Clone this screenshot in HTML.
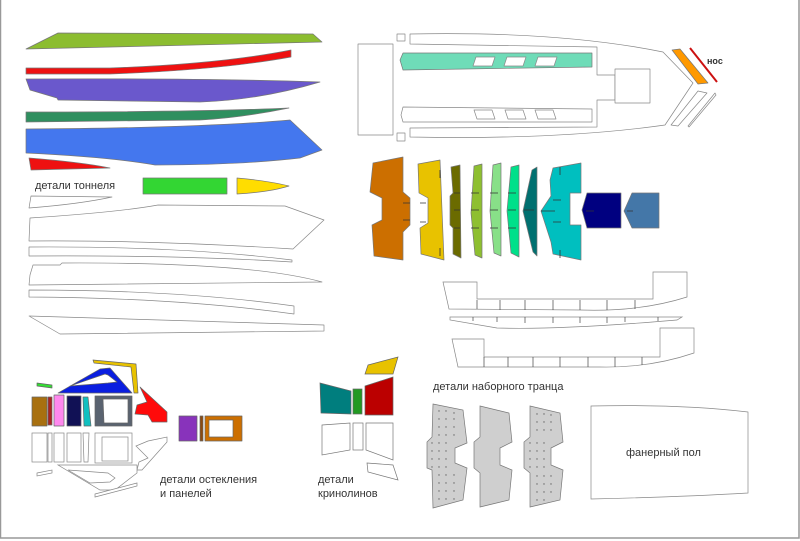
<!DOCTYPE html>
<html><head><meta charset="utf-8"><style>
html,body{margin:0;padding:0;background:#fff;width:800px;height:541px;overflow:hidden}
svg{display:block}
text{font-family:"Liberation Sans",sans-serif;fill:#333}
</style></head><body>
<svg width="800" height="541" viewBox="0 0 800 541" xmlns="http://www.w3.org/2000/svg">
<rect x="0.5" y="-2" width="798.5" height="540" fill="#fff" stroke="#999" stroke-width="1.5"/>
<g stroke="#777" stroke-width="0.7" stroke-linejoin="round">
<!-- tunnel colored -->
<polygon points="26,49 58,33 313,34 322,42" fill="#8cbd30"/>
<path d="M26,68 L110,68 Q220,64 291,50 L291,57 Q220,70 110,74 L26,74 Z" fill="#ee1111"/>
<path d="M26,79 Q200,78 320,82 Q260,100 200,102 L58,100 L57,98 L30,90 Z" fill="#6a58cc"/>
<path d="M26,112 Q200,112 289,108 Q240,118 200,120 L26,122 Z" fill="#2f8f5f"/>
<path d="M26,129 Q200,128 290,120 L322,150 L300,158 Q240,165 155,165 Q110,157 26,153 Z" fill="#4477ee"/>
<path d="M29,158 Q80,162 110,168 L31,170 Z" fill="#ee1111"/>
<rect x="143" y="178" width="84" height="16" fill="#33d633"/>
<path d="M237,178 Q270,181 289,186 Q270,192 237,194 Z" fill="#ffdd00"/>
<!-- tunnel outlines -->
<g fill="#fff" stroke="#888">
<path d="M31,196 L112,197 Q80,204 29,208 Z"/>
<path d="M30,218 Q120,212 158,205 L285,206 L324,220 L293,249 Q150,240 29,241 Z"/>
<path d="M29,247 Q180,246 292,260 L292,262 Q180,255 29,256 Z"/>
<path d="M30,275 L33,265 L60,265 L62,263 Q250,262 322,282 L29,285 Z"/>
<path d="M29,290 Q180,290 294,306 L294,314 Q180,298 29,297 Z"/>
<path d="M29,316 L324,325 L324,331 L60,334 Z"/>
</g>
<!-- deck plan -->
<g fill="#fff" stroke="#888">
<rect x="358" y="44" width="35" height="91"/>
<rect x="397" y="34" width="8" height="7"/>
<rect x="397" y="133" width="8" height="8"/>
<path d="M410,34 Q560,31 663,52 L693,83 L665,125 Q560,140 410,137 L410,128 L597,127 L597,100 L615,100 L615,75 L597,75 L597,47 L410,44 Z"/>
<rect x="615" y="69" width="35" height="34"/>
<path d="M403,107 L592,109 L592,122 L403,122 L401,115 Z"/>
<path d="M698,91 L707,93 L678,126 L671,125 Z"/>
<path d="M715,93 L716,95 L689,127 L688,126 Z"/>
</g>
<polygon points="403,53 592,53 592,67 403,70 400,60" fill="#6fdcb8"/>
<g fill="#fff" stroke="#888">
<polygon points="476,57 495,57 492,66 473,66"/><polygon points="507,57 526,57 523,66 504,66"/><polygon points="538,57 557,57 554,66 535,66"/>
<polygon points="474,110 492,110 495,119 477,119"/><polygon points="505,110 523,110 526,119 508,119"/><polygon points="535,110 553,110 556,119 538,119"/>
</g>
<polygon points="672,50 680,49 708,83 698,84" fill="#ff9900"/>
<line x1="690" y1="48" x2="717" y2="82" stroke="#cc1111" stroke-width="2"/>
<!-- frames -->
<polygon points="373,163 403,157 403,192 410,198 410,225 403,232 403,260 374,256 372,225 382,220 382,198 370,192" fill="#cc6f00"/>
<polygon points="418,164 440,160 444,260 421,254 420,228 428,223 428,198 419,193" fill="#e8c200"/>
<polygon points="451,167 460,165 461,258 453,254 453,228 450,225 450,196 453,193" fill="#6b6b00"/>
<polygon points="474,166 482,164 482,258 475,255 471,213" fill="#8ebf30"/>
<polygon points="493,165 501,163 501,256 494,253 490,211" fill="#88e088"/>
<polygon points="511,167 519,165 519,257 511,253 507,211" fill="#00e08a"/>
<polygon points="532,170 537,167 537,256 533,252 523,211" fill="#007070"/>
<polygon points="553,168 581,163 581,193 570,193 570,225 581,225 581,260 553,254 551,242 541,211 551,196 550,180" fill="#00bfbf"/>
<polygon points="587,193 621,193 621,228 587,228 582,210" fill="#000080"/>
<polygon points="632,193 659,193 659,228 632,228 624,211" fill="#4477a8"/>
</g>
<g stroke="#333" stroke-width="0.8">
<path d="M440,170v8M440,248v8M403,203h7M403,220h7M420,203h6M420,222h6M454,193h6M454,210h6M454,228h6M471,193h8M471,210h8M471,228h8M490,193h8M490,210h8M490,228h8M508,193h8M508,210h8M508,228h8M524,210h10M541,211h14M560,167v8M560,250v8M553,200h8M553,222h8M586,211h8M627,211h6"/>
</g>
<text x="707" y="64" font-size="9" font-weight="bold">нос</text>
<text x="35" y="189" font-size="11">детали тоннеля</text>
<!-- side pieces -->
<g fill="#fff" stroke="#888" stroke-width="0.7">
<path d="M443,282 L477,282 L477,299 L653,299 L653,272 L687,272 L687,297 Q640,312 580,310 L449,309 Z"/>
<path d="M450,317 L682,317 L677,320 Q560,330 497,328 L450,320 Z"/>
<path d="M452,339 L484,339 L484,357 L660,357 L660,328 L694,328 L694,353 Q650,368 600,367 L458,367 Z"/>
</g>
<g stroke="#444" stroke-width="0.7">
<path d="M477,300v9M500,300v10M525,300v10M553,300v10M580,300v10M607,300v10M635,300v9M473,317v4M497,317v5M525,317v6M553,317v6M580,317v6M607,317v6M625,317v5M658,317v4M484,357v10M508,357v10M533,357v10M560,357v10M588,357v10M615,357v10M642,357v8"/>
</g>
<text x="433" y="390" font-size="11">детали наборного транца</text>
<!-- transom pieces -->
<g fill="#cfcfcf" stroke="#777" stroke-width="0.7">
<polygon points="433,404 463,410 467,443 455,448 455,463 467,468 463,500 433,508 432,470 427,468 427,442 432,437"/>
<polygon points="480,406 509,413 512,442 500,448 500,465 512,470 509,500 480,507 480,473 474,468 474,442 480,437"/>
<polygon points="530,406 560,413 563,442 551,448 551,465 563,470 560,500 530,507 530,473 524,468 524,442 530,437"/>
</g>
<g fill="#666">
<circle cx="439" cy="411" r=".7"/><circle cx="446" cy="411" r=".7"/><circle cx="454" cy="413" r=".7"/>
<circle cx="439" cy="419" r=".7"/><circle cx="446" cy="419" r=".7"/><circle cx="454" cy="419" r=".7"/>
<circle cx="439" cy="427" r=".7"/><circle cx="446" cy="427" r=".7"/><circle cx="454" cy="427" r=".7"/>
<circle cx="439" cy="435" r=".7"/><circle cx="446" cy="435" r=".7"/><circle cx="454" cy="435" r=".7"/>
<circle cx="432" cy="443" r=".7"/><circle cx="439" cy="443" r=".7"/><circle cx="446" cy="443" r=".7"/>
<circle cx="432" cy="451" r=".7"/><circle cx="439" cy="451" r=".7"/><circle cx="446" cy="451" r=".7"/>
<circle cx="432" cy="459" r=".7"/><circle cx="439" cy="459" r=".7"/><circle cx="446" cy="459" r=".7"/>
<circle cx="432" cy="467" r=".7"/><circle cx="439" cy="467" r=".7"/><circle cx="446" cy="467" r=".7"/>
<circle cx="439" cy="475" r=".7"/><circle cx="446" cy="475" r=".7"/><circle cx="454" cy="475" r=".7"/>
<circle cx="439" cy="483" r=".7"/><circle cx="446" cy="483" r=".7"/><circle cx="454" cy="483" r=".7"/>
<circle cx="439" cy="491" r=".7"/><circle cx="446" cy="491" r=".7"/><circle cx="454" cy="491" r=".7"/>
<circle cx="439" cy="499" r=".7"/><circle cx="446" cy="499" r=".7"/><circle cx="454" cy="499" r=".7"/>
<circle cx="537" cy="414" r=".7"/><circle cx="544" cy="414" r=".7"/><circle cx="551" cy="415" r=".7"/>
<circle cx="537" cy="422" r=".7"/><circle cx="544" cy="422" r=".7"/><circle cx="551" cy="422" r=".7"/>
<circle cx="537" cy="430" r=".7"/><circle cx="544" cy="430" r=".7"/><circle cx="551" cy="430" r=".7"/>
<circle cx="530" cy="443" r=".7"/><circle cx="537" cy="443" r=".7"/><circle cx="544" cy="443" r=".7"/>
<circle cx="530" cy="451" r=".7"/><circle cx="537" cy="451" r=".7"/><circle cx="544" cy="451" r=".7"/>
<circle cx="530" cy="459" r=".7"/><circle cx="537" cy="459" r=".7"/><circle cx="544" cy="459" r=".7"/>
<circle cx="530" cy="467" r=".7"/><circle cx="537" cy="467" r=".7"/><circle cx="544" cy="467" r=".7"/>
<circle cx="537" cy="476" r=".7"/><circle cx="544" cy="476" r=".7"/><circle cx="551" cy="476" r=".7"/>
<circle cx="537" cy="484" r=".7"/><circle cx="544" cy="484" r=".7"/><circle cx="551" cy="484" r=".7"/>
<circle cx="537" cy="492" r=".7"/><circle cx="544" cy="492" r=".7"/><circle cx="551" cy="492" r=".7"/>
<circle cx="537" cy="500" r=".7"/><circle cx="544" cy="500" r=".7"/>
</g>
<path d="M591,406 Q680,404 748,412 L748,493 Q680,497 591,499 Z" fill="#fff" stroke="#888" stroke-width="0.7"/>
<text x="626" y="456" font-size="11">фанерный пол</text>
<!-- glazing -->
<g stroke="#666" stroke-width="0.7" stroke-linejoin="round">
<polygon points="37,383 52,385 52,388 37,386" fill="#33dd33"/>
<path d="M58,393 L100,369 L110,368 L132,393 Z M70,386 L108,383 L117,382 L108,375 L105,374 Z" fill="#0a1ee0" fill-rule="evenodd"/>
<polygon points="93,360 136,364 138,393 134,393 131,367 94,363" fill="#e8c200"/>
<rect x="32" y="397" width="15" height="29" fill="#a87010"/>
<rect x="48" y="397" width="4" height="28" fill="#aa2222"/>
<rect x="54" y="395" width="10" height="31" fill="#ff88ee"/>
<rect x="67" y="396" width="14" height="30" fill="#111155"/>
<polygon points="83,397 88,397 91,426 84,426" fill="#10c0c0"/>
<path d="M95,396 L132,396 L132,426 L95,426 Z M103,399 L128,399 L128,423 L104,423 Z" fill="#5a6370" fill-rule="evenodd"/>
<polygon points="140,387 167,412 167,422 152,422 148,415 135,414 137,405 147,402" fill="#ff0a0a"/>
<rect x="179" y="416" width="18" height="25" fill="#8833bb"/>
<rect x="200" y="416" width="3" height="25" fill="#8b4a10"/>
<path d="M205,416 L242,416 L242,441 L205,441 Z M209,420 L233,420 L233,437 L209,437 Z" fill="#cc6f00" fill-rule="evenodd"/>
</g>
<g fill="#fff" stroke="#888" stroke-width="0.7">
<rect x="32" y="433" width="15" height="29"/><rect x="48" y="433" width="4" height="29"/>
<rect x="54" y="433" width="10" height="29"/><rect x="67" y="433" width="14" height="29"/>
<polygon points="83,433 89,433 88,462 84,462"/>
<rect x="95" y="433" width="37" height="30"/><rect x="102" y="437" width="26" height="24"/>
<polygon points="148,441 167,437 167,442 142,470 137,470 139,462 148,458 140,450 136,446"/>
<polygon points="58,465 137,465 137,473 115,490 100,490"/>
<polygon points="68,470 108,473 115,478 110,482 90,483"/>
<polygon points="37,473 52,470 52,473 37,476"/>
<polygon points="95,494 137,483 137,486 95,497"/>
</g>
<text x="160" y="483" font-size="11">детали остекления</text>
<text x="160" y="497" font-size="11">и панелей</text>
<!-- crinolines -->
<g stroke="#666" stroke-width="0.7">
<polygon points="368,365 398,357 393,374 365,374" fill="#e8c200"/>
<polygon points="320,383 351,391 351,414 321,413" fill="#007e7e"/>
<rect x="353" y="389" width="9" height="25" fill="#229922"/>
<polygon points="365,386 393,377 393,415 365,415" fill="#bb0000"/>
</g>
<g fill="#fff" stroke="#777" stroke-width="0.7">
<polygon points="322,425 350,423 350,450 322,455"/>
<rect x="353" y="423" width="10" height="27"/>
<polygon points="366,423 393,423 393,460 366,450"/>
<polygon points="367,463 393,465 398,480 368,472"/>
</g>
<text x="318" y="483" font-size="11">детали</text>
<text x="318" y="497" font-size="11">кринолинов</text>
</svg>
</body></html>
